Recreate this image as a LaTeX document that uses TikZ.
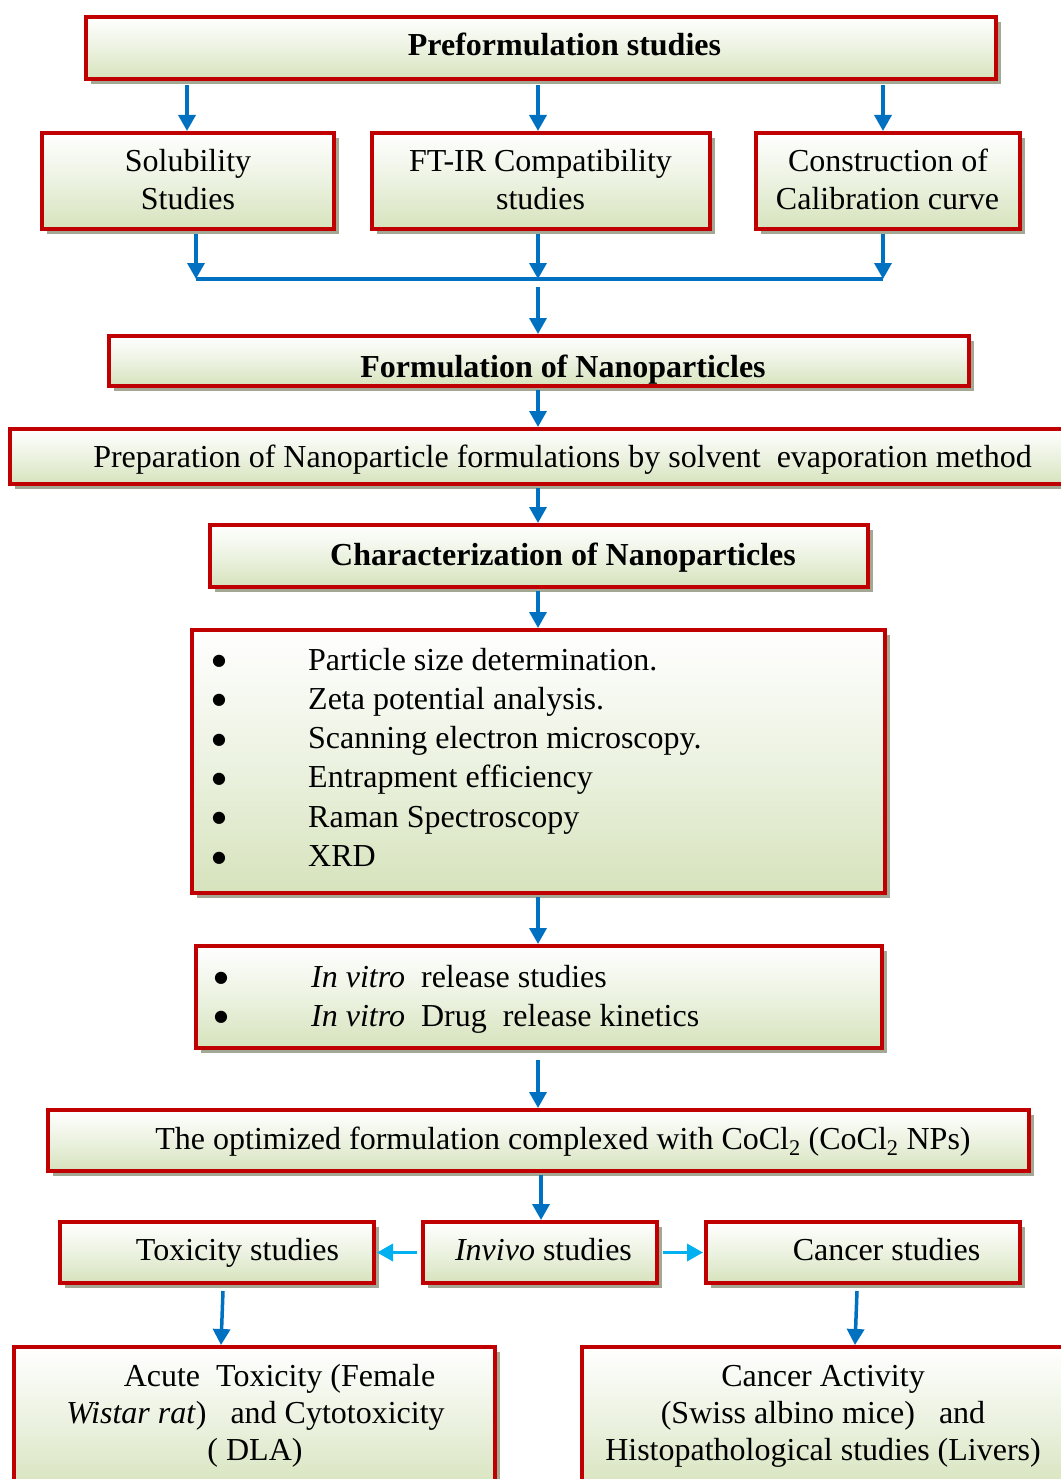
\documentclass[tikz,border=0pt]{standalone}
\usepackage{fontspec}
\setmainfont{Liberation Serif}
\newfontfamily\dejavu{DejaVu Sans}
\usetikzlibrary{arrows.meta,shadows,calc}
\definecolor{bred}{RGB}{192,0,0}
\definecolor{bgreen}{RGB}{214,227,188}
\definecolor{bmid}{RGB}{236,242,225}
\definecolor{shcol}{RGB}{163,168,148}
\definecolor{ablue}{RGB}{0,112,192}
\definecolor{lblue}{RGB}{0,176,240}
\begin{document}
\begin{tikzpicture}[x=1pt,y=-1pt,
  box/.style={draw=bred, line width=4pt, rectangle, inner sep=0pt,
    top color=white, bottom color=bgreen, middle color=bmid,
    drop shadow={shadow xshift=5pt, shadow yshift=-5pt, fill=shcol, opacity=1}},
  txt/.style={font=\fontsize{32}{38}\selectfont, inner sep=0pt, anchor=base},
  txtb/.style={font=\fontsize{32}{38}\selectfont\bfseries, inner sep=0pt, anchor=base},
  txtw/.style={font=\fontsize{32}{38}\selectfont, inner sep=0pt, anchor=base west},
  bul/.style={font=\dejavu\fontsize{16}{18}\selectfont, inner sep=0pt, anchor=base},
  arr/.style={draw=ablue, line width=3.5pt, -{Triangle[width=17pt,length=16pt]}},
  lne/.style={draw=ablue, line width=3.5pt},
  arrl/.style={draw=lblue, line width=3.5pt, -{Triangle[width=17pt,length=16pt]}}
]
\useasboundingbox (0,0) rectangle (1060,1479);

% ---------- boxes ----------
\node[box, minimum width=910pt, minimum height=62pt] (P) at (541,48) {};
\node[box, minimum width=292pt, minimum height=96pt] (S) at (188,181) {};
\node[box, minimum width=338pt, minimum height=96pt] (F) at (541,181) {};
\node[box, minimum width=264pt, minimum height=96pt] (C) at (888,181) {};
\node[box, minimum width=860pt, minimum height=50pt] (Fo) at (539,361) {};
\node[box, minimum width=1070pt, minimum height=55pt] (Pr) at (545,456.5) {};
\node[box, minimum width=658pt, minimum height=62pt] (Ch) at (539,556) {};
\node[box, minimum width=693pt, minimum height=263pt] (Bl) at (538.5,761.5) {};
\node[box, minimum width=686pt, minimum height=102pt] (Vi) at (539,997) {};
\node[box, minimum width=981pt, minimum height=61pt] (Op) at (538.5,1140.5) {};
\node[box, minimum width=314pt, minimum height=61pt] (To) at (217,1252.5) {};
\node[box, minimum width=234pt, minimum height=61pt] (In) at (540,1252.5) {};
\node[box, minimum width=314pt, minimum height=61pt] (Ca) at (863,1252.5) {};
\node[box, minimum width=481pt, minimum height=145pt] (Ac) at (254.5,1419.5) {};
\node[box, minimum width=500pt, minimum height=145pt] (CA) at (832,1419.5) {};

% ---------- texts ----------
\node[txtb] (tP) at (564.5,56) {Preformulation studies};
\node[txt] (tS1) at (188,172) {Solubility};
\node[txt] (tS2) at (188,210) {Studies};
\node[txt] (tF1) at (540.5,172) {FT-IR Compatibility};
\node[txt] (tF2) at (540.5,210) {studies};
\node[txt] (tC1) at (888,172) {Construction of};
\node[txt] (tC2) at (887.5,210) {Calibration curve};
\node[txtb] (tFo) at (563,377) {Formulation of Nanoparticles};
\node[txt] (tPr) at (562.5,467) {Preparation of Nanoparticle formulations by solvent\ \ evaporation method};
\node[txtb] (tCh) at (563,565) {Characterization of Nanoparticles};

\foreach \i/\yy/\t in {1/670/{Particle size determination.},
                       2/709.3/{Zeta potential analysis.},
                       3/748.6/{Scanning electron microscopy.},
                       4/787.9/{Entrapment efficiency},
                       5/827.2/{Raman Spectroscopy},
                       6/866.5/{XRD}}{
  \node[bul] (bu\i) at (219,\yy-4.5) {●};
  \node[txtw] (bt\i) at (308,\yy) {\t};
}
\node[bul] (vu1) at (221,982.5) {●};
\node[txtw] (vt1) at (311,987) {\textit{In vitro}\ \ release studies};
\node[bul] (vu2) at (221,1021.5) {●};
\node[txtw] (vt2) at (311,1026) {\textit{In vitro}\ \ Drug\ \ release kinetics};

\node[txt] (tOp) at (563,1149) {The optimized formulation complexed with CoCl\textsubscript{2} (CoCl\textsubscript{2} NPs)};
\node[txt] (tTo) at (237.5,1260) {Toxicity studies};
\node[txt] (tIn) at (543.5,1260) {\textit{Invivo} studies};
\node[txt] (tCa) at (886.5,1260) {Cancer studies};

\node[txt] (tA1) at (279.5,1386) {Acute\ \ Toxicity (Female};
\node[txt] (tA2) at (255.5,1423) {\textit{Wistar rat})\ \ \ and Cytotoxicity};
\node[txt] (tA3) at (255,1460) {( DLA)};
\node[txt] (tB1) at (823,1386) {Cancer Activity};
\node[txt] (tB2) at (823,1423) {(Swiss albino mice)\ \ \ and};
\node[txt] (tB3) at (823,1460) {Histopathological studies (Livers)};

% ---------- connectors ----------
\coordinate (a1) at (187,85);
\coordinate (a2) at (538,85);
\coordinate (a3) at (883,85);
\draw[arr] (a1) -- (a1 |- S.north);
\draw[arr] (a2) -- (a2 |- F.north);
\draw[arr] (a3) -- (a3 |- C.north);

\coordinate (m1) at (196,234);
\coordinate (m2) at (538,234);
\coordinate (m3) at (883,234);
\coordinate (bar) at (538,279);
\draw[lne] (m1 |- bar) -- (m3 |- bar);
\draw[arr] (m1) -- (m1 |- bar);
\draw[arr] (m2) -- (m2 |- bar);
\draw[arr] (m3) -- (m3 |- bar);
\coordinate (f0) at (538,287);
\draw[arr] (f0) -- (f0 |- Fo.north);

\coordinate (p0) at (538,390);
\draw[arr] (p0) -- (p0 |- Pr.north);
\coordinate (c0) at (538,488);
\draw[arr] (c0) -- (c0 |- Ch.north);
\coordinate (b0) at (538,591);
\draw[arr] (b0) -- (b0 |- Bl.north);
\coordinate (v0) at (538,897);
\draw[arr] (v0) -- (v0 |- Vi.north);
\coordinate (o0) at (538,1060);
\draw[arr] (o0) -- (o0 |- Op.north);
\coordinate (i0) at (541,1175);
\draw[arr] (i0) -- (i0 |- In.north);

\draw[arrl] ($(In.west)+(-4,0)$) -- ($(To.east)+(1,0)$);
\draw[arrl] ($(In.east)+(4,0)$) -- ($(Ca.west)+(-1,0)$);

\draw[arr] ($(To.south)+(6,6)$) -- ($(Ac.north)+(-33.5,0)$);
\draw[arr] ($(Ca.south)+(-6,6)$) -- ($(CA.north)+(23,0)$);
\end{tikzpicture}
\end{document}
